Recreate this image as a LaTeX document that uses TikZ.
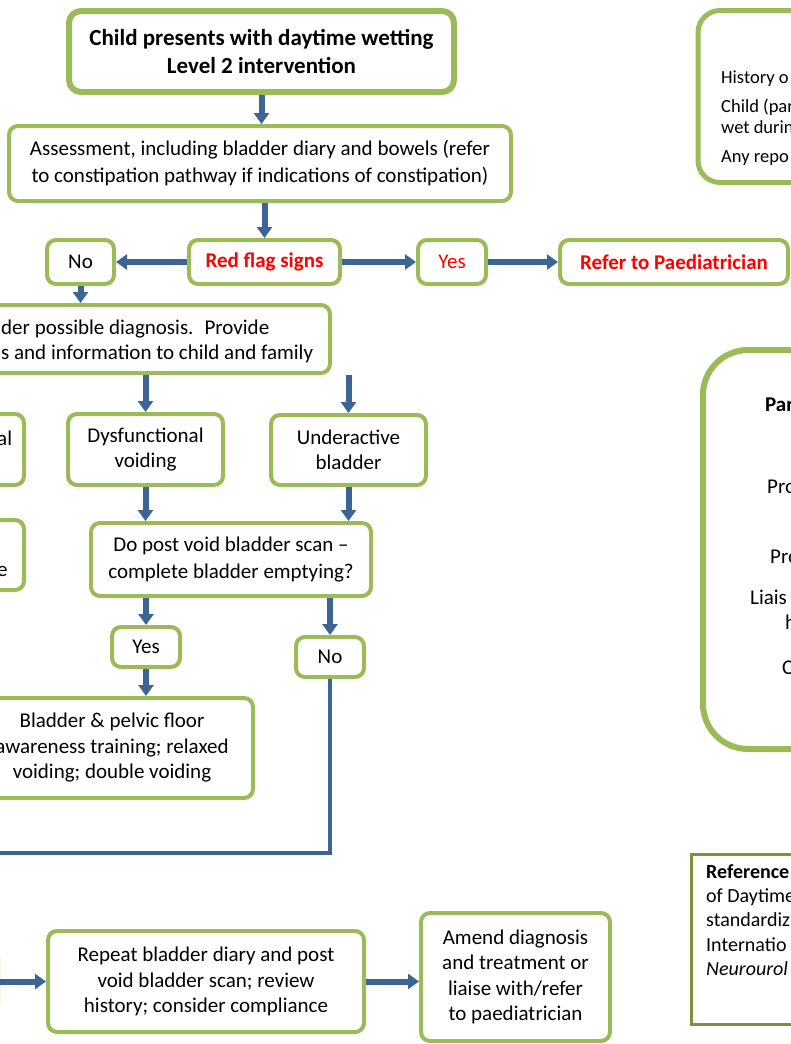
\documentclass[tikz,border=0pt]{standalone}
\usepackage{fontspec}
\setmainfont{Carlito}
\usetikzlibrary{
    arrows.meta,
    calc,
    positioning
}
\definecolor{boxgreen}{HTML}{9BBB59}
\definecolor{refgreen}{HTML}{77933C}
\definecolor{flowblue}{HTML}{3C6596}

\begin{document}
\begin{tikzpicture}[x=1pt, y=-1pt,
    box/.style={draw=boxgreen, line width=4pt, rounded corners=9pt, fill=white,
        align=center, inner sep=0pt, font=\fontsize{21}{25.5}\selectfont},
    widebox/.style={box, font=\fontsize{21}{27}\selectfont},
    titlebox/.style={box, line width=6pt, rounded corners=12pt,
        font=\fontsize{23}{28}\selectfont\bfseries},
    flagtext/.style={text=red, font=\fontsize{21}{25.5}\selectfont\bfseries},
    cut/.style={inner sep=0pt, align=left, font=\fontsize{21}{25}\selectfont},
    smallcut/.style={inner sep=0pt, font=\fontsize{18.5}{20}\selectfont},
    refcut/.style={inner sep=0pt, align=left, font=\fontsize{20}{24.3}\selectfont},
    flow/.style={draw=flowblue, line width=6pt, -{Triangle[width=15pt,length=11pt]}},
    flowline/.style={draw=flowblue, line width=4pt}
]
    \useasboundingbox (0,0) rectangle (791,1044);
    \clip (0,0) rectangle (791,1044);

    \node[titlebox, minimum width=385pt, minimum height=81pt] (top) at (261.5,51.5)
        {Child presents with daytime wetting\\Level 2 intervention};
    \node[widebox, minimum width=502pt, minimum height=75pt] (assess) at (260,163.5)
        {Assessment, including bladder diary and bowels (refer\\to constipation pathway if indications of constipation)};
    \node[box, flagtext, minimum width=151pt, minimum height=44pt] (red) at (264.5,262) {Red flag signs};
    \node[box, minimum width=67pt, minimum height=44pt] (no1) at (80.5,262) {No};
    \node[box, text=red, minimum width=68pt, minimum height=44pt] (yes1) at (452,262) {Yes};
    \node[box, flagtext, minimum width=228pt, minimum height=44pt] (refer) at (674,262) {Refer to Paediatrician};

    \node[box, minimum width=420pt, minimum height=68pt, anchor=east] (consider) at (332,339) {};
    \node[cut, anchor=west] (considertxt) at (1,341)
        {der possible diagnosis.~ Provide\\s and information to child and family};

    \node[box, minimum width=100pt, minimum height=71pt, anchor=east] (sidea) at (26,449.5) {};
    \node[cut, anchor=west] (sideatxt) at (-3,438) {al};
    \node[box, minimum width=155pt, minimum height=71pt] (dys) at (145.5,449.5) {Dysfunctional\\voiding};
    \node[box, minimum width=155pt, minimum height=70pt] (under) at (348.5,450) {Underactive\\bladder};

    \node[box, minimum width=100pt, minimum height=70pt, anchor=east] (sideb) at (26,555) {};
    \node[cut, anchor=west] (sidebtxt) at (-3,571) {e};
    \node[widebox, minimum width=280pt, minimum height=73pt] (post) at (231,559.5)
        {Do post void bladder scan --\\complete bladder emptying?};

    \node[box, minimum width=68pt, minimum height=40pt] (yes2) at (146,647) {Yes};
    \node[box, minimum width=68pt, minimum height=40pt] (no2) at (330,657) {No};
    \node[box, minimum width=282pt, minimum height=100pt] (bladder) at (112,748)
        {Bladder \& pelvic floor\\awareness training; relaxed\\voiding; double voiding};
    \coordinate (loopend) at (-20,853);

    \node[box, minimum width=100pt, minimum height=64pt, anchor=east] (sliver) at (0,981.5) {};
    \node[box, minimum width=316pt, minimum height=101pt] (repeat) at (206,981.5)
        {Repeat bladder diary and post\\void bladder scan; review\\history; consider compliance};
    \node[box, minimum width=189pt, minimum height=128pt] (amend) at (515.5,977)
        {Amend diagnosis\\and treatment or\\liaise with/refer\\to paediatrician};

    \node[box, line width=5pt, rounded corners=22pt, minimum width=200pt, minimum height=172pt,
        anchor=west] (flags) at (695.5,96.5) {};
    \foreach \t/\y [count=\i] in {History o/79, {Child (par}/107, wet durin/127, Any repo/158}
        \node[smallcut, anchor=west] (flagline\i) at (721,\y) {\t};

    \node[box, line width=6pt, rounded corners=45pt, minimum width=200pt, minimum height=399pt,
        anchor=west] (parents) at (700,549.5) {};
    \foreach \t/\x/\y [count=\i] in {\textbf{Par}/765/405, Pro/767/487, Pro/770/557,
            Liais/750/597, h/785/622, C/782/668}
        \node[cut, anchor=west] (parentline\i) at (\x,\y) {\t};

    \node[draw=refgreen, line width=3pt, minimum width=200pt, minimum height=170pt,
        anchor=west] (refs) at (689.5,939) {};
    \node[refcut, anchor=north west] (refstxt) at (706,864)
        {\textbf{Reference}\\of Daytime\\standardiz\\Internatio\\\textit{Neurourol}};

    \draw
    (top.south) edge[flow] (top.south |- assess.north)
    (red.north |- assess.south) edge[flow] (red.north)
    (red.west) edge[flow] (no1.east)
    (red.east) edge[flow] (yes1.west)
    (yes1.east) edge[flow] (refer.west)
    (no1.south) edge[flow] (no1.south |- consider.north)
    (dys.north |- consider.south) edge[flow] (dys.north)
    (under.north |- consider.south) edge[flow] (under.north)
    (dys.south) edge[flow] (dys.south |- post.north)
    (under.south) edge[flow] (under.south |- post.north)
    (yes2.north |- post.south) edge[flow] (yes2.north)
    (no2.north |- post.south) edge[flow] (no2.north)
    (yes2.south) edge[flow] (yes2.south |- bladder.north)
    (sliver.east) edge[flow] (repeat.west)
    (repeat.east) edge[flow] (repeat.east -| amend.west);
    \draw[flowline] (no2.south) |- (loopend);
\end{tikzpicture}
\end{document}
